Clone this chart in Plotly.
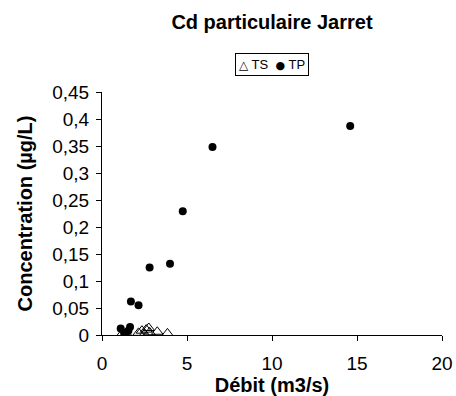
import plotly.graph_objects as go

# Débit (m3/s) and Cd concentration (µg/L), dissolved fraction (TS) and particulate (TP)
ts_debit = [1.15, 1.45, 2.15, 2.35, 2.5, 2.6, 2.75, 2.8, 3.25, 3.85]
ts_conc = [0.001, 0.002, 0.004, 0.008, 0.002, 0.010, 0.013, 0.005, 0.006, 0.003]

tp_debit = [1.1, 1.3, 1.4, 1.55, 1.65, 1.7, 2.15, 2.8, 4.0, 4.75, 6.5, 14.6]
tp_conc = [0.012, 0.004, 0.002, 0.008, 0.015, 0.062, 0.055, 0.125, 0.132, 0.229, 0.348, 0.387]

x_ticks = [0, 5, 10, 15, 20]
y_ticks = [0, 0.05, 0.1, 0.15, 0.2, 0.25, 0.3, 0.35, 0.4, 0.45]
y_tick_labels = ["0", "0,05", "0,1", "0,15", "0,2", "0,25", "0,3", "0,35", "0,4", "0,45"]

FONT = "Liberation Sans, Arial, sans-serif"

fig = go.Figure()
fig.add_trace(go.Scatter(
    x=ts_debit, y=ts_conc, mode="markers", name="TS",
    marker=dict(symbol="triangle-up-open", size=10, color="black",
                line=dict(width=1, color="black")),
))
fig.add_trace(go.Scatter(
    x=tp_debit, y=tp_conc, mode="markers", name="TP",
    marker=dict(symbol="circle", size=8, color="black"),
))

# compact boxed legend above the plot area
fig.add_annotation(
    xref="paper", yref="paper", x=0.5, y=1.112, xanchor="center", yanchor="middle",
    text="<span style='font-family:DejaVu Sans;font-size:12px'>△</span> TS  "
         "<span style='font-family:DejaVu Sans;font-size:11px'>●</span> TP",
    showarrow=False, font=dict(size=13, family=FONT, color="black"),
    bordercolor="black", borderwidth=1, borderpad=3, bgcolor="white",
)

fig.update_layout(
    width=456, height=396,
    margin=dict(l=102, r=14, t=92, b=61),
    paper_bgcolor="white", plot_bgcolor="white",
    font=dict(family=FONT, color="black", size=19),
    separators=", ",
    title=dict(text="<b>Cd particulaire Jarret</b>", xref="paper", x=0.5, xanchor="center",
               yref="container", y=1 - 22 / 396, yanchor="middle", font=dict(size=20)),
    showlegend=False,
)
fig.update_xaxes(
    range=[0, 20], tickvals=x_ticks, showline=True, linecolor="black", linewidth=1,
    ticks="outside", ticklen=5, tickcolor="black", showgrid=False, zeroline=False,
    ticklabelstandoff=6, automargin=False,
    title=dict(text="<b>Débit (m3/s)</b>", font=dict(size=20), standoff=0),
)
fig.update_yaxes(
    range=[0, 0.45], tickvals=y_ticks, ticktext=y_tick_labels, showline=True,
    linecolor="black", linewidth=1, ticks="outside", ticklen=5, tickcolor="black",
    showgrid=False, zeroline=False, ticklabelstandoff=3, automargin=False,
    title=dict(text="<b>Concentration (µg/L)</b>", font=dict(size=20), standoff=14),
)

fig.write_html("out.html")
